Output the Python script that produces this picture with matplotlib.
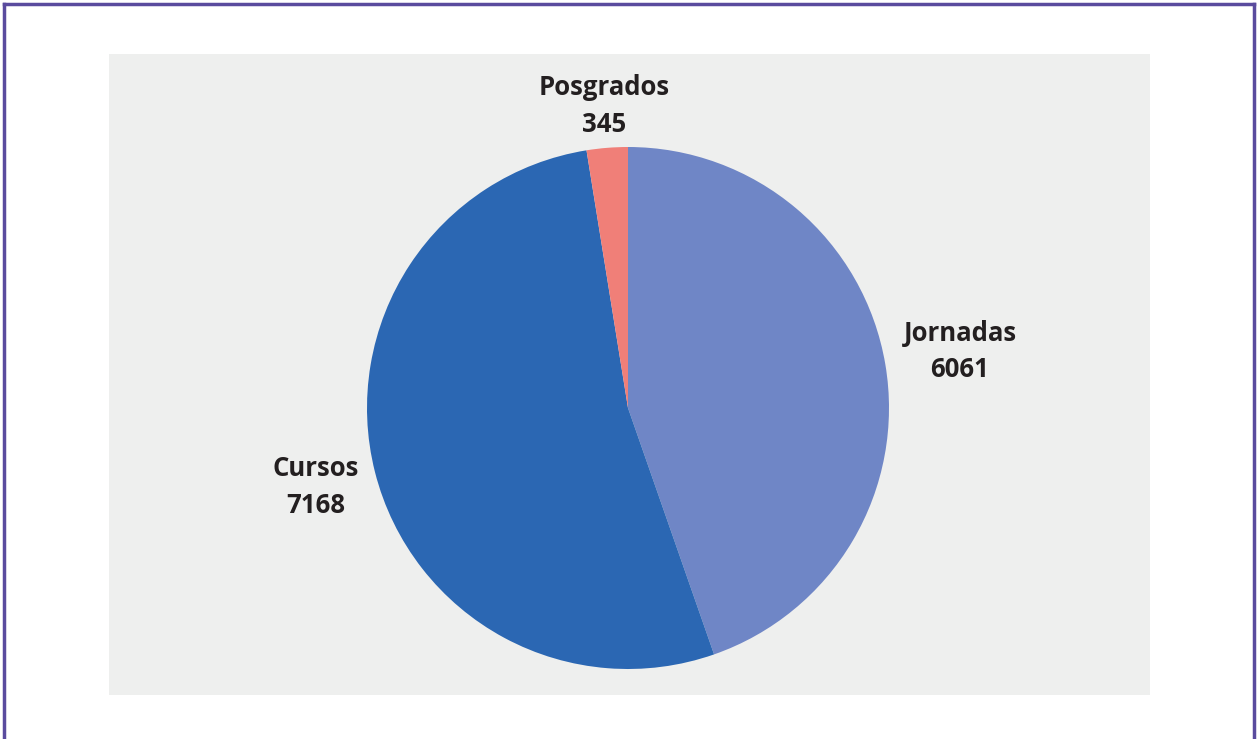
import matplotlib.pyplot as plt
from matplotlib.patches import Rectangle
from matplotlib.lines import Line2D
import numpy as np

plt.rcParams['font.family'] = ['Open Sans', 'DejaVu Sans']

# data
categories = ['Jornadas', 'Cursos', 'Posgrados']
values = [6061, 7168, 345]
colors = ['#6f86c6', '#2b67b3', '#f07f78']
label_dist = [1.29, 1.235, 1.16]

W, H = 1258, 739
fig = plt.figure(figsize=(W / 100, H / 100), dpi=100)
fig.patch.set_facecolor('white')

# grey panel behind the chart
fig.add_artist(Rectangle((109 / W, 1 - 695 / H), (1150 - 109) / W, (695 - 54) / H,
                         transform=fig.transFigure, facecolor='#eeefee',
                         edgecolor='none', zorder=-1))

# purple frame (top, left, right)
frame = '#5a4b9e'
fig.add_artist(Line2D([4 / W, 4 / W], [0, 1 - 4 / H], transform=fig.transFigure, color=frame, lw=2.5))
fig.add_artist(Line2D([4 / W, 1 - 4 / W], [1 - 4 / H, 1 - 4 / H], transform=fig.transFigure, color=frame, lw=2.5))
fig.add_artist(Line2D([1 - 4 / W, 1 - 4 / W], [0, 1 - 4 / H], transform=fig.transFigure, color=frame, lw=2.5))

# pie axes: center (628, 408), radius 261 px
cx, cy, r = 628, 408, 261
ax = fig.add_axes([(cx - r) / W, 1 - (cy + r) / H, 2 * r / W, 2 * r / H])
ax.set_zorder(5)
ax.set_facecolor('none')
wedges, _ = ax.pie(values, colors=colors, startangle=90, counterclock=False,
                   radius=1, wedgeprops=dict(linewidth=0))
ax.set_xlim(-1, 1)
ax.set_ylim(-1, 1)
ax.set_aspect('equal')
ax.axis('off')

for w, cat, val, d in zip(wedges, categories, values, label_dist):
    ang = np.deg2rad((w.theta1 + w.theta2) / 2)
    ax.text(d * np.cos(ang), d * np.sin(ang), f'{cat}\n{val}', ha='center', va='center',
            fontsize=18.5, fontweight='bold', color='#231f20', linespacing=1.45,
            clip_on=False)

fig.savefig('out.png', dpi=100)
